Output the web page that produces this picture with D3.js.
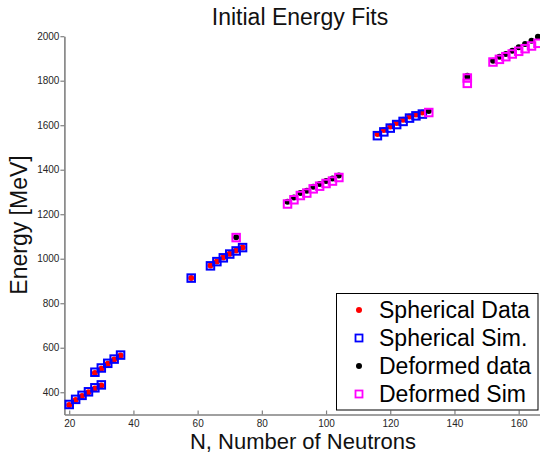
<!DOCTYPE html>
<html>
<head>
<meta charset="utf-8">
<script src="https://cdn.jsdelivr.net/npm/d3@7/dist/d3.min.js"></script>
<style>
  body { margin: 0; background: #fff; }
  svg { display: block; font-family: "Liberation Sans", Arial, sans-serif; }
</style>
</head>
<body>
<div id="chart"></div>
<script>
var width = 540;
var height = 454;

// spherical nuclei: data (red dots) and simulation (blue squares)
var sphericalN    = [20, 22, 24, 26, 28, 30, 28, 30, 32, 34, 36, 58, 64, 66, 68, 70, 72, 74,
                     116, 118, 120, 122, 124, 126, 128, 130];
var sphericalData = [343, 365, 383, 400, 417, 430, 487, 506, 528, 547, 565, 913, 970, 988, 1005, 1022, 1037, 1050,
                     1561, 1578, 1594, 1610, 1624, 1639, 1648, 1657];
var sphericalSim  = [345, 368, 386, 402, 420, 433, 490, 509, 530, 549, 567, 913, 968, 987, 1004, 1021, 1035, 1050,
                     1553, 1570, 1587, 1603, 1617, 1632, 1642, 1650];

// deformed nuclei: data (black dots) and simulation (magenta squares)
var deformedN    = [72, 88, 90, 92, 94, 96, 98, 100, 102, 104, 132, 144, 144,
                    152, 154, 156, 158, 160, 162, 164, 166];
var deformedData = [1097, 1256, 1275, 1295, 1305, 1324, 1336, 1349, 1360, 1374, 1664, 1822, 1817,
                    1890, 1908, 1920, 1935, 1950, 1965, 1980, 1998];
var deformedSim  = [1095, 1246, 1265, 1284, 1295, 1314, 1326, 1338, 1349, 1365, 1657, 1812, 1788,
                    1884, 1896, 1908, 1920, 1932, 1944, 1956, 1968];

var xTicks = [20, 40, 60, 80, 100, 120, 140, 160];
var yTicks = [400, 600, 800, 1000, 1200, 1400, 1600, 1800, 2000];

var legendLabels = ["Spherical Data", "Spherical Sim.", "Deformed data", "Deformed Sim"];

var x = d3.scaleLinear()
    .domain([18.5, 166.8])
    .range([64.4, 540.5]);

var y = d3.scaleLinear()
    .domain([300, 2000])
    .range([414.5, 36.2]);

var svg = d3.select("#chart")
    .append("svg")
    .attr("width", width)
    .attr("height", height);

// axes
svg.append("g")
    .attr("transform", "translate(0," + y(300) + ")")
    .call(d3.axisBottom(x)
        .tickValues(xTicks)
        .tickFormat(d3.format("d"))
        .tickSizeInner(-4)
        .tickSizeOuter(0)
        .tickPadding(5));

svg.append("g")
    .attr("transform", "translate(" + x(18.5) + ",0)")
    .call(d3.axisLeft(y)
        .tickValues(yTicks)
        .tickFormat(d3.format("d"))
        .tickSizeInner(4)
        .tickSizeOuter(0)
        .tickPadding(1));

svg.selectAll(".domain")
    .style("stroke", "#808080")
    .style("stroke-width", "1.6");
svg.selectAll(".tick line")
    .style("stroke", "#808080")
    .style("stroke-width", "1.2");
svg.selectAll(".tick text")
    .style("font-size", "10px")
    .style("fill", "#262626");

// markers
var dot = 3;
var sq = 7.5;

svg.append("g")
    .selectAll("circle")
    .data(sphericalN)
    .enter()
    .append("circle")
    .attr("cx", d => x(d))
    .attr("cy", (d, i) => y(sphericalData[i]))
    .attr("r", dot)
    .style("fill", "#ff0000");

svg.append("g")
    .selectAll("rect")
    .data(sphericalN)
    .enter()
    .append("rect")
    .attr("x", d => x(d) - sq / 2)
    .attr("y", (d, i) => y(sphericalSim[i]) - sq / 2)
    .attr("width", sq)
    .attr("height", sq)
    .style("fill", "none")
    .style("stroke", "#0000ff")
    .style("stroke-width", "2");

svg.append("g")
    .selectAll("circle")
    .data(deformedN)
    .enter()
    .append("circle")
    .attr("cx", d => x(d))
    .attr("cy", (d, i) => y(deformedData[i]))
    .attr("r", dot)
    .style("fill", "#000000");

svg.append("g")
    .selectAll("rect")
    .data(deformedN)
    .enter()
    .append("rect")
    .attr("x", d => x(d) - sq / 2)
    .attr("y", (d, i) => y(deformedSim[i]) - sq / 2)
    .attr("width", sq)
    .attr("height", sq)
    .style("fill", "none")
    .style("stroke", "#ff00ff")
    .style("stroke-width", "2");

// titles
svg.append("text")
    .attr("x", 300)
    .attr("y", 25)
    .attr("text-anchor", "middle")
    .style("font-size", "23px")
    .style("fill", "#111")
    .text("Initial Energy Fits");

svg.append("text")
    .attr("x", 303)
    .attr("y", 449)
    .attr("text-anchor", "middle")
    .style("font-size", "22px")
    .style("fill", "#111")
    .text("N, Number of Neutrons");

svg.append("text")
    .attr("transform", "translate(27,225) rotate(-90)")
    .attr("text-anchor", "middle")
    .style("font-size", "23px")
    .style("fill", "#111")
    .text("Energy [MeV]");

// legend
var legend = svg.append("g");
legend.append("rect")
    .attr("x", 336.5)
    .attr("y", 293.5)
    .attr("width", 201.5)
    .attr("height", 116.5)
    .style("fill", "#fff")
    .style("stroke", "#000")
    .style("stroke-width", "1");

var rows = legend.selectAll("g.row")
    .data(legendLabels)
    .enter()
    .append("g")
    .attr("class", "row")
    .attr("transform", (d, i) => "translate(359," + (310 + i * 28) + ")");

rows.filter((d, i) => i % 2 == 0)
    .append("circle")
    .attr("r", dot)
    .style("fill", (d, i) => i == 0 ? "#ff0000" : "#000000");

rows.filter((d, i) => i % 2 == 1)
    .append("rect")
    .attr("x", -3.5)
    .attr("y", -3.5)
    .attr("width", 7)
    .attr("height", 7)
    .style("fill", "none")
    .style("stroke", (d, i) => i == 0 ? "#0000ff" : "#ff00ff")
    .style("stroke-width", "1.8");

rows.append("text")
    .attr("x", 20)
    .attr("dy", "0.36em")
    .style("font-size", "23px")
    .style("fill", "#000")
    .text(d => d);
</script>
</body>
</html>
